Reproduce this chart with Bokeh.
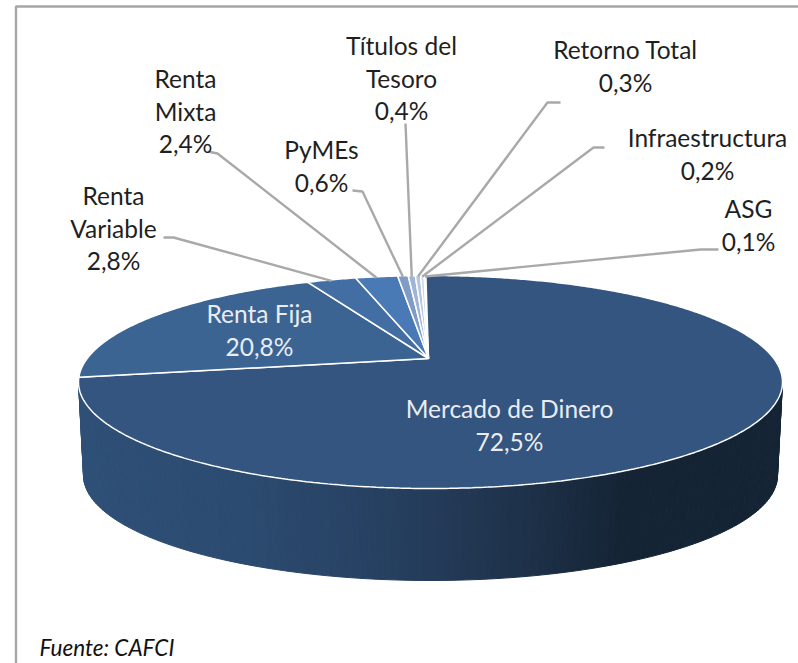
import numpy as np
from bokeh.plotting import figure
from bokeh.models import Range1d
from bokeh.core.properties import value
from bokeh.embed import file_html
from bokeh.resources import INLINE

# ---- data ----
categories = ["Mercado de Dinero", "Renta Fija", "Renta Variable", "Renta Mixta", "PyMEs",
              "Títulos del Tesoro", "Retorno Total", "Infraestructura", "ASG"]
shares = [72.5, 20.8, 2.8, 2.4, 0.6, 0.4, 0.3, 0.2, 0.1]
share_labels = ["72,5%", "20,8%", "2,8%", "2,4%", "0,6%", "0,4%", "0,3%", "0,2%", "0,1%"]
label_lines = [["Mercado de Dinero"], ["Renta Fija"], ["Renta", "Variable"], ["Renta", "Mixta"], ["PyMEs"],
               ["Títulos del", "Tesoro"], ["Retorno Total"], ["Infraestructura"], ["ASG"]]
source_note = "Fuente: CAFCI"

# ---- style and layout ----
slice_colors = ["#33557f", "#3c6493", "#426ea3", "#4a7ab5", "#7f9bc6", "#9fb4d6", "#b5c6e0", "#c9d5e9", "#dce4f1"]
wall_stops_x = [80, 250, 400, 520, 620, 780]
wall_stops_rgb = [(47, 80, 119), (44, 75, 112), (38, 63, 95), (31, 50, 75), (22, 37, 54), (21, 36, 52)]
label_centers = [(509, 408), (259, 313), (113, 195), (185, 78), (321, 149), (401, 45), (625, 49), (707, 137), (748, 208)]
line_pitch = 32.5
elbows = [None, None,
          [(163, 237), (173, 237)], [(207, 151), (217, 153)], [(352, 190), (362, 191)],
          [(405, 123)], [(560, 102), (547, 102)], [(604, 147), (593, 147)], [(718, 249), (700, 249)]]
FONT = "Lato"
FS = "24.5px"
APEX = (428.0, 358.0)
CX, TOP_Y, BOT_Y, RX = 430.0, 275.0, 488.0, 352.0
START_DEG = -1.3

# projective map of the tilted disc
back = APEX[1] - TOP_Y
front = BOT_Y - APEX[1]
k = (front - back) / (front + back)
b = back * (1 + k)
a = RX * np.sqrt(1 - k * k)


def rim(theta_deg):
    t = np.radians(theta_deg)
    u, v = np.sin(t), np.cos(t)
    d = 1 + k * v
    return CX + a * u / d, APEX[1] - b * v / d


p = figure(width=798, height=663, output_backend="svg", toolbar_location=None,
           x_range=Range1d(0, 798), y_range=Range1d(663, 0),
           x_axis_type=None, y_axis_type=None, min_border=0, outline_line_color=None,
           background_fill_color="white", border_fill_color="white")
p.grid.visible = False
p.styles = {"position": "absolute", "left": "0px", "top": "0px"}

# frame
p.line([15.5, 15.5, 798], [663, 6, 6], line_color="#a6a6a6", line_width=2.4)

# side wall, vertical strips
ELL_CY = (TOP_Y + BOT_Y) / 2
ELL_RY = (BOT_Y - TOP_Y) / 2
WALL_CY, WALL_RY, WALL_RX = 475.0, 105.0, 347.0
ts = np.linspace(np.pi, 2 * np.pi, 141)
xs_w, ys_w, cols_w = [], [], []
for t0, t1 in zip(ts[:-1], ts[1:]):
    xs_w.append([CX + RX * np.cos(t0), CX + RX * np.cos(t1), CX + WALL_RX * np.cos(t1), CX + WALL_RX * np.cos(t0)])
    ys_w.append([ELL_CY - ELL_RY * np.sin(t0), ELL_CY - ELL_RY * np.sin(t1),
                 WALL_CY - WALL_RY * np.sin(t1), WALL_CY - WALL_RY * np.sin(t0)])
    xm = CX + RX * np.cos((t0 + t1) / 2)
    rgb = [int(np.interp(xm, wall_stops_x, [s[i] for s in wall_stops_rgb])) for i in range(3)]
    cols_w.append("#%02x%02x%02x" % tuple(rgb))
p.patches(xs_w, ys_w, fill_color=cols_w, line_color=cols_w, line_width=1)

# top face wedges
theta = START_DEG
mids = []
for val, col in zip(shares, slice_colors):
    span = val * 3.6
    th = np.linspace(theta, theta + span, max(3, int(span * 2)))
    rx_, ry_ = rim(th)
    p.patch(np.r_[APEX[0], rx_], np.r_[APEX[1], ry_], fill_color=col, line_color="white", line_width=1.5)
    mids.append(theta + span / 2)
    theta += span

# leader lines
for mid, el in zip(mids, elbows):
    if el is None:
        continue
    sx, sy = rim(mid)
    xs = [e[0] for e in el] + [sx]
    ys = [e[1] for e in el] + [sy + 1]
    p.line(xs, ys, line_color="#a9a9a9", line_width=2.4)

# labels
for i, (lines, pct, (cx, cy)) in enumerate(zip(label_lines, share_labels, label_centers)):
    color = "#e9edf3" if i < 2 else "#1f1f1f"
    rows = lines + [pct]
    for j, row in enumerate(rows):
        p.text([cx], [cy + j * line_pitch], text=[row], text_font=value(FONT), text_font_size=FS,
               text_color=color, text_align="center", text_baseline="middle")

p.text([39], [647], text=[source_note], text_font=value(FONT), text_font_size="22.5px",
       text_font_style="italic", text_color="#111111", text_align="left", text_baseline="middle")

open("out.html", "w").write(file_html(p, INLINE))
